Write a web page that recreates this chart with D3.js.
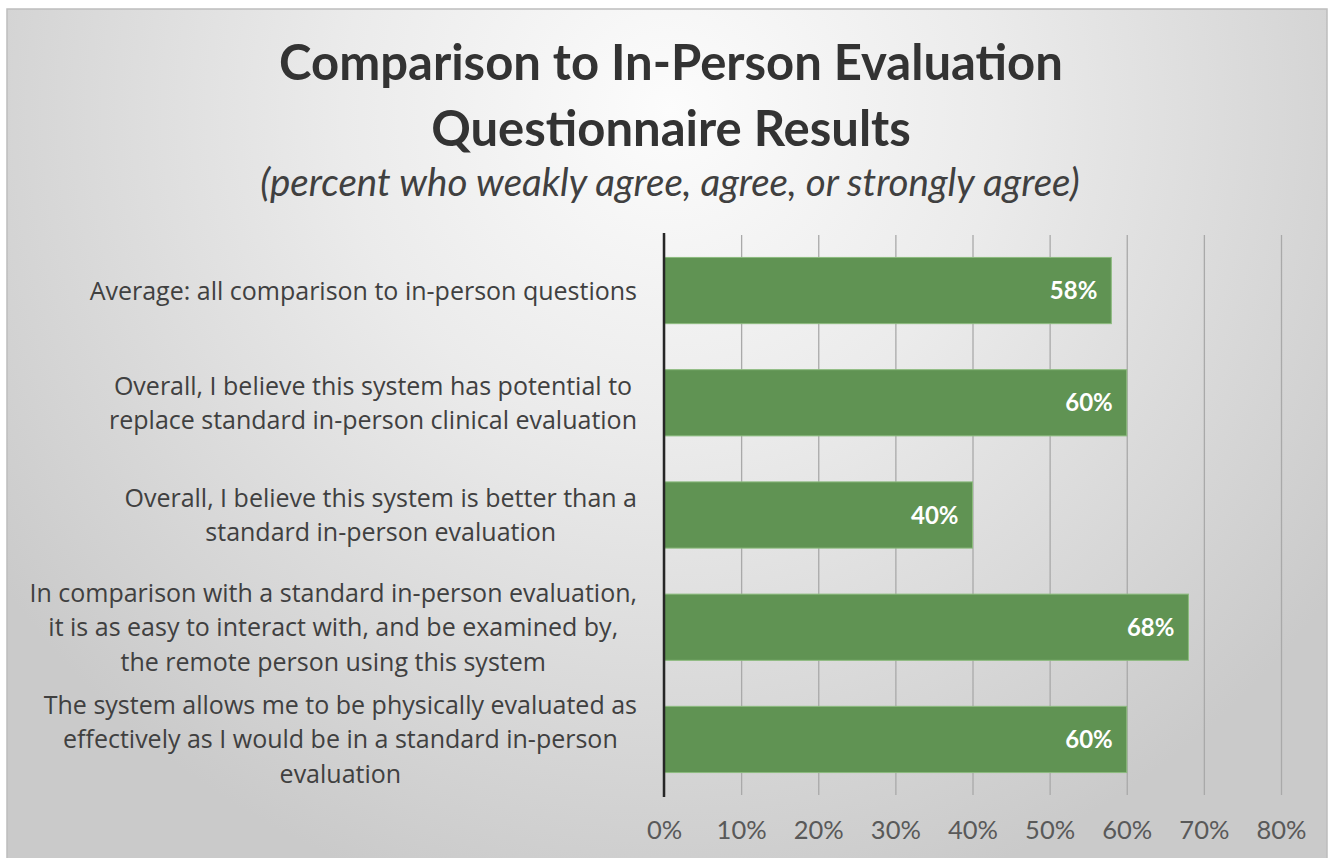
<!DOCTYPE html>
<html>
<head>
<meta charset="utf-8">
<script src="https://cdn.jsdelivr.net/npm/d3@7"></script>
<style>
  body { margin: 0; background: #fff; }
  svg { display: block; }
  text { font-family: Lato, "Open Sans", sans-serif; }
</style>
</head>
<body>
<svg id="canvas" width="1332" height="858"></svg>
<script>
// data
var categories = ['avg', 'potential', 'better', 'easy', 'effective'];
var labelLines = [
  ['Average: all comparison to in-person questions'],
  ['Overall, I believe this system has potential to', 'replace standard in-person clinical evaluation'],
  ['Overall, I believe this system is better than a', 'standard in-person evaluation'],
  ['In comparison with a standard in-person evaluation,', 'it is as easy to interact with, and be examined by,', 'the remote person using this system'],
  ['The system allows me to be physically evaluated as', 'effectively as I would be in a standard in-person', 'evaluation']
];
var values = [0.58, 0.60, 0.40, 0.68, 0.60];
var ticks = [0, 0.1, 0.2, 0.3, 0.4, 0.5, 0.6, 0.7, 0.8];
var titleLines = ['Comparison to In-Person Evaluation', 'Questionnaire Results'];
var subtitle = '(percent who weakly agree, agree, or strongly agree)';

var svg = d3.select('#canvas');
var W = 1332, H = 858;

// ---------------------------------------------------------------- //
// background panel with radial gradient

var defs = svg.append('defs');
var grad = defs.append('radialGradient')
  .attr('id', 'bg').attr('gradientUnits', 'userSpaceOnUse')
  .attr('cx', 670).attr('cy', 110).attr('r', 820);
grad.append('stop').attr('offset', '0').attr('stop-color', '#fcfcfc');
grad.append('stop').attr('offset', '0.4').attr('stop-color', '#ebebeb');
grad.append('stop').attr('offset', '1').attr('stop-color', '#cacaca');

svg.append('rect')
  .attr('x', 7).attr('y', 9).attr('width', W - 12).attr('height', H)
  .attr('fill', 'url(#bg)').attr('stroke', '#bdbdbd').attr('stroke-width', 1.5);

// ---------------------------------------------------------------- //
// titles

svg.selectAll('.title').data(titleLines).enter().append('text')
  .attr('class', 'title')
  .attr('x', 671).attr('y', function(d, i){ return 80 + i*66; })
  .attr('text-anchor', 'middle')
  .style('font-size', '49px').style('font-weight', 'bold').style('fill', '#333333')
  .text(function(d){ return d; });

svg.append('text')
  .attr('x', 670).attr('y', 196)
  .attr('text-anchor', 'middle')
  .style('font-size', '38.5px').style('font-style', 'italic').style('fill', '#404040')
  .text(subtitle);

// ---------------------------------------------------------------- //
// scales

var x = d3.scaleLinear().domain([0, 0.8]).range([664, 1281]);
var y = d3.scaleBand().domain(categories).range([235, 795]).paddingInner(0.41).paddingOuter(0.2);

// gridlines
var xAxis = svg.append('g').attr('transform', 'translate(0,795)')
  .call(d3.axisBottom(x).tickValues(ticks).tickSize(-560).tickPadding(26).tickFormat(d3.format('.0%')));
xAxis.select('.domain').remove();
xAxis.selectAll('.tick line').attr('stroke', '#a9a9a9').attr('stroke-width', 1.3);
xAxis.selectAll('.tick text')
  .style('font-size', '25.5px').style('fill', '#595959')
  .style('font-family', 'Lato, sans-serif');

// bars
svg.selectAll('.bar').data(values).enter().append('rect')
  .attr('class', 'bar')
  .attr('x', x(0))
  .attr('y', function(d, i){ return y(categories[i]); })
  .attr('width', function(d){ return x(d) - x(0); })
  .attr('height', y.bandwidth())
  .attr('fill', '#609353')
  .attr('stroke', '#8cbb7e').attr('stroke-width', 1);

// value labels
svg.selectAll('.val').data(values).enter().append('text')
  .attr('class', 'val')
  .attr('x', function(d){ return x(d) - 14; })
  .attr('y', function(d, i){ return y(categories[i]) + y.bandwidth()/2; })
  .attr('dy', '0.36em')
  .attr('text-anchor', 'end')
  .style('font-size', '24px').style('font-weight', 'bold').style('fill', '#ffffff')
  .text(function(d){ return Math.round(d*100) + '%'; });

// vertical axis line
svg.append('line')
  .attr('x1', x(0)).attr('x2', x(0)).attr('y1', 233).attr('y2', 797)
  .attr('stroke', '#262626').attr('stroke-width', 2.5);

// ---------------------------------------------------------------- //
// category labels: block right aligned, lines centred inside block

var lineH = 34.5, labelRight = 637;
var catG = svg.append('g');
categories.forEach(function(c, i){
  var g = catG.append('g');
  var lines = labelLines[i];
  var cy = y(c) + y.bandwidth()/2;
  var texts = g.selectAll('text').data(lines).enter().append('text')
    .attr('y', function(d, j){ return cy + (j - (lines.length - 1)/2)*lineH; })
    .attr('dy', '0.36em')
    .attr('text-anchor', 'middle')
    .style('font-family', '"Open Sans", sans-serif')
    .style('font-size', '25px').style('fill', '#404040')
    .text(function(d){ return d; });
  var maxW = d3.max(texts.nodes(), function(n){ return n.getComputedTextLength(); });
  texts.attr('x', labelRight - maxW/2);
});
</script>
</body>
</html>
